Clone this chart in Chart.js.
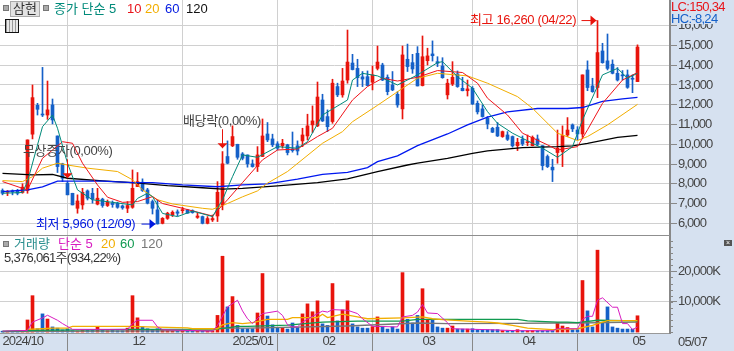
<!DOCTYPE html>
<html>
<head>
<meta charset="utf-8">
<script src="https://cdn.jsdelivr.net/npm/chart.js@4"></script>
<style>
html, body { margin: 0; padding: 0; background: #d6e1f0; }
body { width: 734px; height: 351px; position: relative; overflow: hidden; font-family: "Liberation Sans", "Noto Sans CJK KR", sans-serif; font-size: 13px; color: #333; }
canvas { position: absolute; left: 0; }
.t { position: absolute; white-space: nowrap; line-height: 14px; }
.n { letter-spacing: -0.7px; }
.sq { position: absolute; width: 4px; height: 4px; background: #aaa; border: 1px solid #777; }
#btn { position: absolute; left: 10px; top: 1px; width: 28px; height: 14px; background: #e2e2e2; border: 1px solid #aaa; text-align: center; line-height: 14px; }
#gridIcon { position: absolute; left: 5px; top: 19px; width: 12px; height: 12px; border: 1px solid #111; background: repeating-linear-gradient(90deg, #999 0 1px, #e8e8e8 1px 3px); }
#close { position: absolute; left: 724px; top: 240px; width: 8px; height: 6px; background: #555; color: #fff; font-size: 7px; line-height: 6px; text-align: center; }
#hiLo { position: absolute; left: 671px; top: 0; width: 63px; height: 24px; background: #d6e1f0; }
#sep { position: absolute; left: 0; top: 235px; width: 670px; height: 1px; background: #8f8f8f; }
</style>
</head>
<body>
<canvas id="priceChart" width="734" height="235" style="top:0"></canvas>
<canvas id="volumeChart" width="734" height="116" style="top:235px"></canvas>
<div id="sep"></div>

<div class="sq" style="left:3px;top:5px"></div>
<div id="btn">삼현</div>
<div class="sq" style="left:43px;top:5px"></div>
<div class="t" style="left:54px;top:2px;color:#008a7a">종가 단순 5</div>
<div class="t" style="left:127px;top:2px;color:#e8141a">10</div>
<div class="t" style="left:145px;top:2px;color:#f2ae00">20</div>
<div class="t" style="left:165px;top:2px;color:#0018e0">60</div>
<div class="t" style="left:186px;top:2px;color:#111">120</div>
<div id="gridIcon"></div>

<div id="hiLo">
  <div class="t n" style="left:0;top:0;color:#e8141a">LC:150,34</div>
  <div class="t n" style="left:0;top:12px;color:#1560c8">HC:-8,24</div>
</div>

<div class="sq" style="left:3px;top:241px"></div>
<div class="t" style="left:14px;top:237px;color:#2a8f8f">거래량</div>
<div class="t" style="left:58px;top:237px;color:#d81cc0">단순 5</div>
<div class="t" style="left:101px;top:237px;color:#f2ae00">20</div>
<div class="t" style="left:120px;top:237px;color:#109a50">60</div>
<div class="t" style="left:141px;top:237px;color:#777">120</div>
<div class="t n" style="left:4px;top:251px;color:#333">5,376,061주(934,22%)</div>
<div id="close">×</div>
<div class="t n" style="left:678px;top:335px;color:#444">05/07</div>

<script>
// 일봉 시가/고가/저가/종가
let opens = [7660,7570,7630,7660,7560,7660,10510,11970,11520,11480,11990,10420,9010,8030,7520,6760,6930,7640,7520,6970,
  7220,6900,7020,7020,6880,6760,6810,7860,8080,7690,7100,6680,6000,6250,6420,6580,6640,6680,6640,6300,
  6340,6000,6170,6370,6930,9380,9920,10000,9510,9460,9010,8870,9380,10520,10270,10020,9930,9970,9760,9920,
  10170,10420,10980,10930,12240,11400,11150,12920,12500,13250,14110,13840,13410,13420,13140,13840,14010,13390,13000,12530,
  11790,14300,14130,14600,12970,14230,14570,14180,13960,12500,13050,13560,12830,12710,12830,12070,11790,11320,10810,10860,
  10390,10470,10390,9930,10250,10080,9930,10270,9930,9380,8840,9580,9630,10470,10980,10720,10520,13760,12950,12870,
  14720,14220,14050,13590,13510,13510,13340,13170];
let highs = [7740,7660,7690,7720,8000,10220,13000,12070,13890,13200,12290,10420,9040,8110,7520,7440,7770,7690,7770,7770,
  7270,7180,7130,7070,6930,7100,8700,8570,8250,7770,7180,7180,6290,6560,6630,6680,6810,6710,6680,6510,
  6370,6340,6420,8110,9630,10170,10930,10000,9580,9460,9210,9880,11280,11100,10510,10130,10250,10000,10620,10170,
  10810,11520,11940,13150,12530,11740,13290,13090,13840,15780,14550,14300,13680,13710,13960,14970,14100,13510,13680,12660,
  14970,15070,14550,14940,15480,14860,15230,14430,14380,13290,14180,13710,13390,13250,12920,12190,11990,11400,10860,11100,
  10670,10640,10420,10300,10420,10470,10420,10470,9930,9460,9240,10720,10930,11350,11030,10890,13510,14220,13340,16260,
  15110,15580,14270,13880,13730,13760,13510,15030];
let lows = [7440,7400,7440,7440,7520,7520,10270,11480,11400,11260,11030,8570,8110,7440,6930,6510,6710,7180,7020,6930,
  6810,6850,6810,6760,6710,6540,6760,7860,7610,6980,6470,5960,5970,6200,6340,6370,6510,6510,6510,6250,
  5970,5970,6090,6090,6680,9010,9880,9240,9210,8840,8840,8620,9380,10130,9880,9710,9800,9460,9600,9460,
  9880,10220,10590,10890,11150,10640,11060,12410,12380,13090,13760,12920,12920,12950,12750,13760,13220,12500,12710,11870,
  11280,13680,13590,12950,12950,14010,14210,13930,13340,12290,12970,12880,12700,12440,12010,11530,11370,10780,10590,10390,
  10350,10190,9850,9680,9930,9930,9920,9930,8700,8820,8110,9040,8870,10390,10640,10220,10350,12710,12630,12360,
  14100,13760,13560,13200,13250,12830,12610,13170];
let closes = [7520,7610,7590,7520,7830,10220,12360,11770,11480,11740,11230,8870,8280,7440,6930,7130,7570,7270,7220,7270,
  6900,7070,6950,6810,6780,6900,7770,8110,7660,7020,6760,5970,6250,6510,6560,6510,6680,6510,6540,6370,
  6000,6240,6240,7570,9010,9040,10390,9340,9290,9010,8870,9460,10420,10220,9970,9800,10050,9580,9680,9660,
  10470,10930,11180,12390,11180,10890,13090,12500,13200,14160,13780,13370,13300,12970,13510,14160,13250,12660,12750,11990,
  14520,13930,13810,12950,14430,14470,14480,14100,13370,13090,13390,12920,12710,12800,12040,11640,11400,11030,10610,10420,
  10640,10250,9920,10100,10020,10130,10350,10000,8920,8870,8700,9800,10440,10720,10780,10520,13510,12870,12660,14640,
  14130,13840,13590,13250,13460,12880,13290,14920];

// 거래량 (천주)
let volumes = [300,300,300,300,450,4000,12000,1100,6000,4300,1700,1300,700,1100,450,350,550,550,550,1700,
  550,450,550,450,450,1300,12000,4700,1700,1100,900,1100,900,550,450,450,450,450,350,350,
  450,350,350,5500,25000,8300,11700,2200,1100,1100,1100,6300,19300,5300,2400,1300,1300,1000,3000,1500,
  6000,9300,6700,10300,2700,2200,16000,3700,7300,10300,2700,1700,1300,1300,1800,5000,1700,1000,1700,1000,
  19600,4200,3000,5500,14300,4200,4200,1700,1300,1300,2000,1000,1000,1000,1100,800,800,800,800,800,
  500,450,450,800,450,450,500,450,450,450,500,3100,2000,1500,800,800,17000,7000,1700,27000,
  3100,8300,1700,1300,1000,1000,1000,5376];

// 이동평균선: [봉 번호, 값]
let ma5 = [[0,7520],[4,7560],[5,8110],[8,10890],[10,11480],[11,10810],[13,9040],[15,7690],[18,7190],[22,7060],[26,6930],[27,7260],[29,7520],[30,7350],[32,6500],[35,6340],[38,6620],[42,6340],[44,7190],[46,8360],[48,9460],
  [51,9340],[55,9880],[59,9800],[61,10130],[64,11480],[69,12240],[70,13250],[72,13590],[75,13460],[79,13000],[83,13510],[87,14130],[88,14180],[91,13420],[94,12830],[97,11650],
  [99,11060],[102,10560],[106,10050],[108,9800],[111,9340],[114,9880],[116,11230],[120,13510],[123,13840],[125,13340],[127,13590]];
let ma10 = [[0,8110],[4,7770],[5,7690],[8,9290],[12,10130],[14,10050],[16,9040],[19,7940],[21,7320],[24,7060],[27,7100],[30,7350],[32,7000],[36,6760],[42,6370],[45,7190],[48,8060],
  [52,9210],[55,9710],[59,9760],[63,10390],[66,10810],[70,12240],[73,12920],[76,13340],[79,13200],[83,13390],[87,13730],[92,13630],[95,13090],[97,12330],
  [101,11480],[104,10560],[109,9970],[111,9710],[115,9880],[117,10730],[120,12070],[124,13250],[127,13630]];
let ma20 = [[0,8160],[4,8110],[6,8360],[8,8790],[11,9040],[13,8950],[17,8790],[23,8620],[26,8200],[28,7690],[31,7190],[34,6980],[40,6760],[42,6710],[45,7000],[48,7340],
  [51,7640],[53,8030],[57,8620],[64,10050],[68,10640],[70,11140],[75,11970],[80,12830],[83,13340],[87,13590],[93,13460],[97,13090],
  [103,12410],[106,11820],[111,10560],[115,10190],[117,10390],[121,10980],[127,12020]];
let ma60 = [[0,7600],[5,7690],[8,7840],[11,8130],[20,8130],[26,8060],[30,8060],[36,7940],[43,7850],[48,7940],
  [53,7990],[59,8230],[64,8480],[69,8580],[73,8820],[75,9120],[79,9410],[83,9930],[89,10520],[93,10980],[97,11370],
  [101,11640],[107,11810],[113,11810],[116,11860],[120,12170],[124,12300],[127,12370]];
let ma120 = [[0,8530],[6,8450],[10,8470],[13,8280],[20,8150],[26,8060],[33,7910],[40,7800],[44,7730],[48,7770],
  [55,7890],[63,8060],[69,8250],[75,8620],[81,8950],[83,9040],[89,9290],[94,9540],[97,9660],
  [104,9830],[111,9880],[114,9920],[117,10050],[123,10350],[127,10450]];

let volMa5 = [[0,300],[5,550],[6,3300],[8,4660],[9,5550],[11,3900],[12,2800],[14,900],[25,900],[26,2800],[27,3900],[30,3900],[31,1700],[32,800],[42,300],[43,2200],[45,8300],[47,10500],[48,7000],
  [49,4400],[50,2800],[52,6100],[55,6900],[56,5500],[57,2400],[58,1700],[59,1700],[60,3300],[63,6100],[64,6900],[65,6600],[66,7400],[69,7200],[71,6100],[72,4400],[74,1900],[79,1700],[80,5000],[82,5500],[83,6600],[84,9100],[85,6300],[87,6100],[89,3100],[90,1100],[97,800],
  [103,450],[110,450],[111,1100],[115,1100],[116,4200],[117,5200],[118,5200],[119,10500],[120,11300],[122,8200],[123,8200],[124,2800],[125,2800],[126,800],[127,1700]];
let volMa20 = [[5,900],[8,1100],[10,1300],[13,1300],[14,1900],[26,1900],[29,1700],[37,1400],[38,1100],[43,1100],[44,2400],[46,3100],[48,2800],
  [50,3100],[53,4200],[57,4200],[58,4800],[63,4800],[64,5900],[65,4800],[68,5900],[71,5000],[73,4400],[80,4700],[84,5000],[86,4400],[88,4100],[93,3600],[97,3300],
  [99,3000],[102,2200],[105,1300],[110,800],[115,1100],[118,2200],[120,3300],[121,3800],[127,3800]];
let volMa60 = [[0,200],[6,550],[26,900],[43,1000],[47,1900],[49,1900],[57,2300],[64,3300],[71,3600],[80,3600],[83,4200],[97,4200],[103,4200],[105,3700],[111,3300],[113,3300],[115,3100],[119,3900],[127,3700]];
let volMa120 = [[0,200],[42,450],[43,1300],[49,1300],[69,2000],[83,3000],[89,2800],[102,2900],[111,3000],[115,3000],[127,3300]];

// 눈금
let priceTicks = [6000,7000,8000,9000,10000,11000,12000,13000,14000,15000,16000];
let volumeTicks = [10000,20000];
let monthIndex = [0,26,46,64,84,104,126];
let monthNames = ["2024/10","12","2025/01","02","03","04","05"];

let barCount = 134; // 오른쪽 여백 포함
let categories = [];
for (let i = 0; i < barCount; i++) {
    let m = monthIndex.indexOf(i);
    categories.push(m >= 0 ? monthNames[m] : "");
}

const RED = "#e8140c";
const BLUE = "#1560c8";
let isUp = closes.map((c, i) => c >= opens[i]);
let candleColors = isUp.map(u => u ? RED : BLUE);

function knots(pairs) {
    let out = new Array(closes.length).fill(null);
    pairs.forEach(p => { out[p[0]] = p[1]; });
    return out;
}

function lineSet(pairs, color, width) {
    return {
        type: "line",
        data: knots(pairs),
        borderColor: color,
        borderWidth: width,
        pointRadius: 0,
        spanGaps: true,
        order: 1
    };
}

function monthTick(value, index) {
    let m = monthIndex.indexOf(index);
    return m >= 0 ? monthNames[m] : null;
}

// 왼쪽 끝 눈금선은 보이지 않게
function monthLine(c) {
    return c.index === 0 ? "transparent" : "#d0d0d0";
}
function monthMark(c) {
    return c.index === 0 ? "transparent" : "#888";
}

const axisFont = { family: '"Liberation Sans","Noto Sans CJK KR",sans-serif', size: 13 };

// 배경과 화살표, 주석을 그리는 플러그인
const paneBg = {
    id: "paneBg",
    beforeDraw(chart) {
        let a = chart.chartArea;
        chart.ctx.fillStyle = "#fff";
        chart.ctx.fillRect(a.left, a.top, a.right - a.left, a.bottom - a.top);
        chart.ctx.letterSpacing = "-0.9px";
    }
};

function downArrow(ctx, x, y1, y2) {
    ctx.fillStyle = RED; ctx.strokeStyle = RED;
    ctx.beginPath(); ctx.moveTo(x, y1); ctx.lineTo(x, y2); ctx.stroke();
    ctx.beginPath(); ctx.moveTo(x - 5, y2 - 5); ctx.lineTo(x + 5, y2 - 5); ctx.lineTo(x, y2); ctx.fill();
}

function rightArrow(ctx, x1, x2, y, color) {
    ctx.fillStyle = color; ctx.strokeStyle = color;
    ctx.beginPath(); ctx.moveTo(x1, y); ctx.lineTo(x2, y); ctx.stroke();
    ctx.beginPath(); ctx.moveTo(x2 - 6, y - 5); ctx.lineTo(x2 - 6, y + 5); ctx.lineTo(x2, y); ctx.fill();
}

const notes = {
    id: "notes",
    afterDatasetsDraw(chart) {
        let ctx = chart.ctx, xs = chart.scales.x, ys = chart.scales.y;
        ctx.save();
        ctx.font = '13px "Liberation Sans","Noto Sans CJK KR",sans-serif';
        ctx.letterSpacing = "-0.35px";
        ctx.textBaseline = "middle";
        ctx.lineWidth = 1;

        let x = xs.getPixelForValue(13);
        downArrow(ctx, x, ys.getPixelForValue(9240), ys.getPixelForValue(8280));
        ctx.fillStyle = "#444";
        ctx.fillText("무상증자(0,00%)", 23, ys.getPixelForValue(9640));

        x = xs.getPixelForValue(44);
        downArrow(ctx, x, ys.getPixelForValue(10760), ys.getPixelForValue(9800));
        ctx.fillStyle = "#444";
        ctx.fillText("배당락(0,00%)", 183, ys.getPixelForValue(11150));

        let y = ys.getPixelForValue(5960);
        x = xs.getPixelForValue(31) - 2;
        rightArrow(ctx, x - 14, x, y, "#0018e0");
        ctx.fillStyle = "#0018e0";
        ctx.fillText("최저 5,960 (12/09)", 36, y);

        y = ys.getPixelForValue(16260);
        x = xs.getPixelForValue(119) - 1;
        rightArrow(ctx, x - 15, x, y, RED);
        ctx.fillStyle = RED;
        ctx.fillText("최고 16,260 (04/22)", 470, y);
        ctx.restore();
    }
};

const minorTicks = {
    id: "minorTicks",
    afterDraw(chart) {
        let ctx = chart.ctx, ys = chart.scales.y, a = chart.chartArea;
        ctx.save();
        ctx.strokeStyle = "#888";
        ctx.lineWidth = 1;
        for (let v = 0; v <= 30000; v += 2000) {
            let p = Math.round(ys.getPixelForValue(v)) + 0.5;
            ctx.beginPath(); ctx.moveTo(a.right, p); ctx.lineTo(a.right + 3, p); ctx.stroke();
        }
        ctx.restore();
    }
};

function noPad(scale) {
    scale.paddingTop = 0;
    scale.paddingBottom = 0;
    scale.paddingLeft = 0;
    scale.paddingRight = 0;
}

//가격
new Chart("priceChart", {
    type: "bar",
    plugins: [paneBg, notes],
    data: {
        labels: categories,
        datasets: [
            lineSet(ma5, "#008a7a", 1),
            lineSet(ma10, "#f0141a", 1),
            lineSet(ma20, "#f2ae00", 1),
            lineSet(ma60, "#0018f0", 1.3),
            lineSet(ma120, "#000", 1.3),
            {
                data: highs.map((h, i) => [lows[i], h]),
                backgroundColor: candleColors,
                barThickness: 1,
                grouped: false,
                order: 3
            },
            {
                data: closes.map((c, i) => [opens[i], c]),
                backgroundColor: candleColors,
                barThickness: 3,
                minBarLength: 1,
                grouped: false,
                order: 2
            }
        ]
    },
    options: {
        responsive: false,
        animation: false,
        layout: { padding: 0 },
        plugins: { legend: { display: false }, tooltip: { enabled: false } },
        scales: {
            x: {
                grid: { color: monthLine, lineWidth: 1, offset: true, drawTicks: false },
                border: { display: false },
                ticks: { display: false, autoSkip: false, maxRotation: 0, callback: monthTick },
                afterFit: s => { s.height = 0; noPad(s); }
            },
            y: {
                position: "right",
                min: 5408,
                max: 17300,
                grid: { color: "#d0d0d0", lineWidth: 1, tickColor: "#888", tickLength: 7 },
                border: { color: "#888", width: 2 },
                afterBuildTicks: s => { s.ticks = priceTicks.map(v => ({ value: v })); },
                ticks: {
                    padding: 1,
                    color: "#444",
                    font: axisFont,
                    callback: v => v.toLocaleString("en-US")
                },
                afterFit: s => { s.width = 64; noPad(s); }
            }
        }
    }
});

//거래량
new Chart("volumeChart", {
    type: "bar",
    plugins: [paneBg, minorTicks],
    data: {
        labels: categories,
        datasets: [
            lineSet(volMa5, "#d81cc0", 1),
            lineSet(volMa20, "#f2ae00", 1.3),
            lineSet(volMa60, "#109a50", 1.3),
            lineSet(volMa120, "#777", 1.3),
            {
                data: volumes,
                backgroundColor: candleColors,
                barThickness: 3,
                order: 2
            }
        ]
    },
    options: {
        responsive: false,
        animation: false,
        layout: { padding: 0 },
        plugins: { legend: { display: false }, tooltip: { enabled: false } },
        scales: {
            x: {
                grid: { color: monthLine, lineWidth: 1, offset: true, tickColor: monthMark, tickLength: 18 },
                border: { color: "#999", width: 1 },
                ticks: {
                    autoSkip: false,
                    maxRotation: 0,
                    align: "start",
                    padding: -17,
                    color: "#444",
                    font: axisFont,
                    callback: monthTick
                },
                afterFit: s => { s.height = 18; noPad(s); }
            },
            y: {
                position: "right",
                min: -300,
                max: 32000,
                grid: { color: "#d0d0d0", lineWidth: 1, tickColor: "#888", tickLength: 7 },
                border: { color: "#888", width: 2 },
                afterBuildTicks: s => { s.ticks = volumeTicks.map(v => ({ value: v })); },
                ticks: {
                    padding: 1,
                    color: "#444",
                    font: axisFont,
                    callback: v => v.toLocaleString("en-US") + "K"
                },
                afterFit: s => { s.width = 64; noPad(s); }
            }
        }
    }
});
</script>
</body>
</html>
